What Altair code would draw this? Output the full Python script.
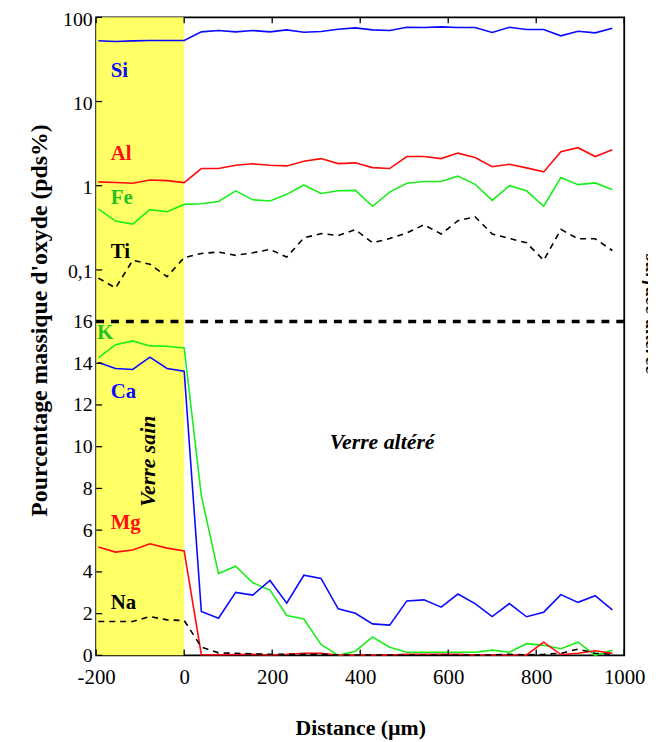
import altair as alt
import pandas as pd

FONT = "Liberation Serif"

# ---- data ----
distance = [-195, -156, -117, -78, -39, 0, 39, 78, 117, 156, 195, 233, 272, 311, 350,
            389, 428, 467, 506, 545, 584, 622, 661, 700, 739, 778, 817, 856, 895, 934, 973]

si = [52.7, 51.7, 52.5, 53.2, 53.2, 53.2, 67.2, 69.7, 67.2, 69.7, 67.2, 71.0, 66.6, 67.8, 72.3,
      74.9, 71.0, 69.7, 76.3, 75.6, 77.0, 75.6, 75.6, 66.0, 76.3, 71.6, 71.6, 60.3, 68.4, 65.4, 74.2]
al = [1.11, 1.09, 1.07, 1.17, 1.15, 1.09, 1.60, 1.60, 1.75, 1.82, 1.75, 1.72, 1.95, 2.10, 1.83,
      1.87, 1.64, 1.60, 2.22, 2.22, 2.10, 2.44, 2.16, 1.68, 1.80, 1.63, 1.46, 2.54, 2.83, 2.22, 2.68]
fe = [0.53, 0.38, 0.35, 0.52, 0.49, 0.60, 0.61, 0.65, 0.87, 0.68, 0.66, 0.79, 1.02, 0.81, 0.87,
      0.88, 0.57, 0.84, 1.07, 1.12, 1.12, 1.30, 1.04, 0.67, 1.00, 0.87, 0.57, 1.25, 1.03, 1.08, 0.90]
ti = [0.080, 0.061, 0.130, 0.117, 0.083, 0.140, 0.157, 0.163, 0.149, 0.160, 0.175, 0.142, 0.240,
      0.270, 0.256, 0.301, 0.210, 0.236, 0.275, 0.344, 0.267, 0.384, 0.428, 0.267, 0.236, 0.210,
      0.130, 0.303, 0.234, 0.234, 0.170]

k = [14.26, 14.89, 15.07, 14.83, 14.81, 14.73, 7.65, 3.92, 4.27, 3.48, 3.13, 1.91, 1.74, 0.52, 0.0,
     0.20, 0.88, 0.39, 0.15, 0.15, 0.15, 0.15, 0.15, 0.25, 0.15, 0.56, 0.48, 0.32, 0.63, 0.0, 0.25]
ca = [14.04, 13.75, 13.70, 14.29, 13.75, 13.62, 2.10, 1.78, 3.02, 2.89, 3.59, 2.50, 3.84, 3.69, 2.23,
      2.02, 1.51, 1.45, 2.61, 2.66, 2.31, 2.94, 2.48, 1.86, 2.48, 1.85, 2.07, 2.91, 2.54, 2.86, 2.18]
mg = [5.19, 4.95, 5.05, 5.35, 5.14, 5.00, 0.03, 0.03, 0.04, 0.05, 0.02, 0.05, 0.10, 0.10, 0.02,
      0.02, 0.02, 0.02, 0.05, 0.05, 0.05, 0.05, 0.02, 0.02, 0.02, 0.02, 0.63, 0.04, 0.10, 0.22, 0.10]
na = [1.62, 1.62, 1.62, 1.86, 1.70, 1.67, 0.40, 0.12, 0.10, 0.07, 0.05, 0.05, 0.05, 0.05, 0.02,
      0.02, 0.02, 0.02, 0.02, 0.02, 0.02, 0.02, 0.02, 0.02, 0.05, 0.02, 0.05, 0.10, 0.30, 0.10, 0.05]

x_ticks = [-200, 0, 200, 400, 600, 800, 1000]
top_ticks = [0.1, 1, 10, 100]
bottom_ticks = [0, 2, 4, 6, 8, 10, 12, 14, 16]

top_labels = ["Si", "Al", "Fe", "Ti"]
top_label_y = [23.2, 2.38, 0.72, 0.163]
top_label_colors = ["#0a0aff", "#ff1010", "#22c322", "black"]
bottom_labels = ["K", "Ca", "Mg", "Na"]
bottom_label_y = [15.43, 12.62, 6.35, 2.5]
bottom_label_x = [-198, -167, -167, -167]
bottom_label_colors = ["#22c322", "#0a0aff", "#ff1010", "black"]

BLUE, RED, GREEN = "#0a0aff", "#ff0a0a", "#1aee1a"
W, H = 533, 644
SPLIT = 307

# ---- encodings ----
x_axis = alt.Axis(values=x_ticks, domain=False, ticks=False, tickSize=0, grid=False,
                  labelExpr="datum.value < 0 ? '-' + format(-datum.value, 'd') : format(datum.value, 'd')",
                  labelFont=FONT, labelFontSize=21, labelColor="black", labelPadding=11,
                  labelFlush=False, labelOverlap=False,
                  title="Distance (µm)", titleFont=FONT, titleFontSize=22, titleFontWeight="bold",
                  titleColor="black", titlePadding=31)
x_enc = alt.X("x:Q", scale=alt.Scale(domain=[-200, 1000], nice=False, zero=False), axis=x_axis)

top_axis = alt.Axis(orient="left", values=top_ticks, domain=False, ticks=False, tickSize=0, grid=False,
                    labelExpr="datum.value >= 1 ? format(datum.value, 'd') : '0,1'",
                    labelFont=FONT, labelFontSize=20, labelColor="black", labelPadding=4,
                    labelOffset=2, labelFlush=False, labelOverlap=False, title=None)
top_y = alt.Y("v:Q", scale=alt.Scale(type="log", domain=[0.0244, 100], range=[SPLIT, 0], nice=False),
              axis=top_axis)

bot_axis = alt.Axis(orient="left", values=bottom_ticks, domain=False, ticks=False, tickSize=0, grid=False,
                    labelFont=FONT, labelFontSize=20, labelColor="black", labelPadding=4,
                    labelFlush=False, labelOverlap=False, title=None)
bot_y = alt.Y("v:Q", scale=alt.Scale(domain=[0, 16], range=[H, SPLIT], nice=False, zero=False),
              axis=bot_axis)


def series(vals):
    return pd.DataFrame({"x": distance, "v": vals})


def line(vals, color, y_enc, dash=None):
    kw = dict(color=color, strokeWidth=1.6, clip=False)
    if dash:
        kw["strokeDash"] = dash
    return alt.Chart(series(vals)).mark_line(**kw).encode(x=x_enc, y=y_enc)


# ---- top panel (log) ----
rect = alt.Chart(pd.DataFrame({"x": [-200], "x_end": [0]})).mark_rect(color="#ffff66").encode(
    x=x_enc, x2="x_end:Q", y=alt.value(0), y2=alt.value(H))

top_tick_marks = alt.Chart(pd.DataFrame({"v": top_ticks})).mark_rule(color="black", strokeWidth=1.3).encode(
    y=top_y, x=alt.value(0), x2=alt.value(6))

top_text = alt.Chart(pd.DataFrame({"x": [-167] * 4, "v": top_label_y, "lab": top_labels,
                                   "c": top_label_colors})).mark_text(
    align="left", baseline="middle", font=FONT, fontSize=21, fontWeight="bold").encode(
    x=x_enc, y=top_y, text="lab:N", color=alt.Color("c:N", scale=None))

top = alt.layer(
    rect,
    line(si, BLUE, top_y),
    line(al, RED, top_y),
    line(fe, GREEN, top_y),
    line(ti, "black", top_y, [6, 5]),
    top_tick_marks,
    top_text,
)

# ---- bottom panel (linear) ----
bot_tick_marks = alt.Chart(pd.DataFrame({"v": bottom_ticks})).mark_rule(color="black", strokeWidth=1.3).encode(
    y=bot_y, x=alt.value(0), x2=alt.value(6))

x_tick_df = pd.DataFrame({"x": x_ticks})
x_tick_bottom = alt.Chart(x_tick_df).mark_rule(color="black", strokeWidth=1.3).encode(
    x=x_enc, y=alt.value(H), y2=alt.value(H - 6))
x_tick_top = alt.Chart(x_tick_df).mark_rule(color="black", strokeWidth=1.3).encode(
    x=x_enc, y=alt.value(0), y2=alt.value(6))

separator = alt.Chart(pd.DataFrame({"x": [-200], "x_end": [1000], "v": [16]})).mark_rule(
    color="black", strokeWidth=3.5, strokeDash=[8, 7]).encode(x=x_enc, x2="x_end:Q", y=bot_y)

bot_text = alt.Chart(pd.DataFrame({"x": bottom_label_x, "v": bottom_label_y, "lab": bottom_labels,
                                   "c": bottom_label_colors})).mark_text(
    align="left", baseline="middle", font=FONT, fontSize=21, fontWeight="bold").encode(
    x=x_enc, y=bot_y, text="lab:N", color=alt.Color("c:N", scale=None))

altere = alt.Chart(pd.DataFrame({"x": [450], "v": [10.2], "t": ["Verre altéré"]})).mark_text(
    align="center", baseline="middle", font=FONT, fontSize=22, fontWeight="bold",
    fontStyle="italic", color="black").encode(x=x_enc, y=bot_y, text="t:N")

sain = alt.Chart(pd.DataFrame({"x": [-81], "v": [9.3], "t": ["Verre sain"]})).mark_text(
    align="center", baseline="middle", angle=270, font=FONT, fontSize=22, fontWeight="bold",
    fontStyle="italic", color="black").encode(x=x_enc, y=bot_y, text="t:N")

y_title = alt.Chart(pd.DataFrame({"t": ["Pourcentage massique d'oxyde (pds%)"]})).mark_text(
    align="center", baseline="middle", angle=270, font=FONT, fontSize=24, fontWeight="bold",
    color="black").encode(x=alt.value(-57), y=alt.value(306), text="t:N")

surface = alt.Chart(pd.DataFrame({"t": ["surface altérée"]})).mark_text(
    align="left", baseline="alphabetic", angle=90, font=FONT, fontSize=20, fontWeight="bold",
    fontStyle="italic", color="black").encode(x=alt.value(555), y=alt.value(239), text="t:N")

bottom = alt.layer(
    line(k, GREEN, bot_y),
    line(ca, BLUE, bot_y),
    line(mg, RED, bot_y),
    line(na, "black", bot_y, [6, 5]),
    bot_tick_marks,
    x_tick_bottom,
    x_tick_top,
    separator,
    bot_text,
    altere,
    sain,
    y_title,
    surface,
)

chart = alt.layer(top, bottom).resolve_scale(y="independent").properties(
    width=W, height=H,
    autosize=alt.AutoSizeParams(type="none"),
    padding={"left": 89, "top": 6, "right": 24, "bottom": 82},
).configure_view(stroke="black", strokeWidth=1.8)

chart.save("out.html", embed_options={"renderer": "svg", "actions": False})
